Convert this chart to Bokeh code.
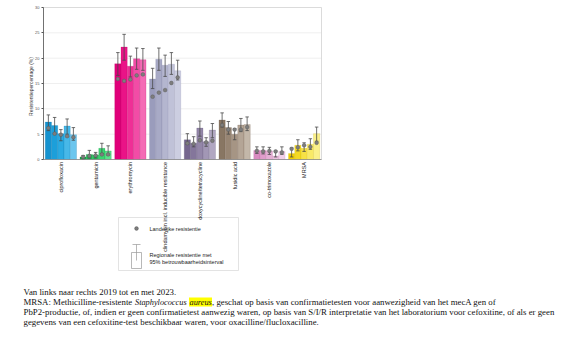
import math
from bokeh.plotting import figure
from bokeh.models import Range1d, ColumnDataSource, FixedTicker
from bokeh.core.properties import value
from bokeh.transform import dodge
from bokeh.embed import file_html
from bokeh.resources import INLINE

categories = ["ciprofloxacin", "gentamicin", "erythromycin",
              "clindamycin incl. inducible resistance", "doxycycline/tetracycline",
              "fusidic acid", "co-trimoxazole", "MRSA"]
years = ["2019", "2020", "2021", "2022", "2023"]
y_ticks = [0, 5, 10, 15, 20, 25, 30]

# regional resistance (bar height), per category, 2019..2023
reg_cip = [7.4, 6.7, 5.1, 6.6, 4.9]
reg_gen = [0.5, 1.0, 0.9, 2.2, 1.7]
reg_ery = [18.9, 22.2, 18.4, 19.9, 19.7]
reg_cli = [15.9, 19.8, 18.6, 18.8, 17.5]
reg_dox = [3.9, 3.2, 6.2, 3.5, 5.8]
reg_fus = [7.8, 6.3, 5.0, 6.8, 6.9]
reg_cot = [1.8, 1.8, 1.7, 0.7, 1.6]
reg_mrsa = [1.2, 2.8, 2.2, 3.0, 5.1]

# 95% CI lower / upper
lo_cip = [5.7, 5.1, 3.7, 5.0, 3.8]
hi_cip = [8.8, 8.3, 5.9, 8.0, 6.3]
lo_gen = [0.0, 0.3, 0.3, 1.2, 0.9]
hi_gen = [0.8, 1.8, 1.4, 3.2, 2.7]
lo_ery = [16.6, 19.6, 16.3, 17.8, 17.6]
hi_ery = [21.1, 24.7, 20.4, 22.0, 21.9]
lo_cli = [14.0, 17.6, 16.4, 16.8, 15.7]
hi_cli = [18.0, 22.0, 20.6, 21.1, 19.6]
lo_dox = [3.0, 2.5, 4.6, 2.6, 4.3]
hi_dox = [5.1, 4.5, 7.6, 4.3, 7.1]
lo_fus = [6.4, 5.0, 3.9, 5.5, 5.7]
hi_fus = [9.2, 7.5, 6.1, 8.1, 8.4]
lo_cot = [1.2, 1.1, 1.0, 0.5, 1.0]
hi_cot = [2.5, 2.5, 2.4, 1.7, 2.5]
lo_mrsa = [0.5, 1.7, 1.6, 2.0, 3.6]
hi_mrsa = [2.3, 3.9, 3.3, 4.1, 6.4]

# national resistance (dots)
nat_cip = [6.2, 5.1, 4.9, 4.6, 4.4]
nat_gen = [0.5, 0.7, 0.8, 1.0, 1.0]
nat_ery = [15.9, 15.5, 15.8, 16.6, 16.8]
nat_cli = [12.4, 13.2, 13.7, 15.1, 16.2]
nat_dox = [3.2, 3.1, 3.8, 3.4, 3.7]
nat_fus = [6.8, 5.9, 5.9, 5.9, 6.4]
nat_cot = [1.7, 1.6, 1.7, 1.6, 1.4]
nat_mrsa = [2.1, 2.4, 2.8, 2.5, 3.3]

regional = [reg_cip, reg_gen, reg_ery, reg_cli, reg_dox, reg_fus, reg_cot, reg_mrsa]
lower = [lo_cip, lo_gen, lo_ery, lo_cli, lo_dox, lo_fus, lo_cot, lo_mrsa]
upper = [hi_cip, hi_gen, hi_ery, hi_cli, hi_dox, hi_fus, hi_cot, hi_mrsa]
national = [nat_cip, nat_gen, nat_ery, nat_cli, nat_dox, nat_fus, nat_cot, nat_mrsa]

legend_dot_text = "Landelijke resistentie"
legend_bar_text = ["Regionale resistentie met", "95% betrouwbaarheidsinterval"]
note_line1 = "Van links naar rechts 2019 tot en met 2023."
note_line2 = ["MRSA: Methicilline-resistente ", "Staphylococcus ", "aureus",
              ", geschat op basis van confirmatietesten voor aanwezigheid van het mecA gen of"]
note_line3 = ("PbP2-productie, of, indien er geen confirmatietest aanwezig waren, op basis van "
              "S/I/R interpretatie van het laboratorium voor cefoxitine, of als er geen")
note_line4 = "gegevens van een cefoxitine-test beschikbaar waren, voor oxacilline/flucloxacilline."

palette = [
    ["#1592cf", "#1c9fda", "#2aaae2", "#47b8e8", "#6cc6ee"],
    ["#17a847", "#1cbb53", "#22c95d", "#39d671", "#5ce08b"],
    ["#e0007a", "#ea1387", "#ef2f96", "#f24ca6", "#f46bb5"],
    ["#9a9cbc", "#a8aac6", "#b4b6cf", "#c0c2d8", "#cccee1"],
    ["#75668d", "#84769b", "#9386a8", "#a297b5", "#b1a7c2"],
    ["#887663", "#978573", "#a69584", "#b4a596", "#c3b7a9"],
    ["#d98bc1", "#df9dcb", "#e5aed4", "#ebbfde", "#f1d0e8"],
    ["#f0cf00", "#f4d923", "#f6e146", "#f8e967", "#faf08a"],
]
edge = ["#0b6f9f", "#12833a", "#a8005c", "#7d7fa0", "#5c4f70", "#6c5c4b", "#b76ba0", "#c9ad00"]

# ---- layout geometry (page pixels) ----
W, H = 561, 340
FRAME_LEFT = 20                 # left panel only holds the (relocated) y axis
LEFT, TOP = 43, 7               # chart area origin on the page
CHART_BOTTOM = 159
CAT_PX = 34.75
ppu = (CHART_BOTTOM - TOP) / 30.0
ncat = len(categories)

p = figure(width=W, height=H, output_backend="svg", toolbar_location=None,
           x_range=Range1d((FRAME_LEFT - LEFT) / CAT_PX, (W - LEFT) / CAT_PX),
           y_range=Range1d(-(H - CHART_BOTTOM) / ppu, 30 + TOP / ppu),
           x_axis_location=None, y_axis_location="left",
           min_border_left=FRAME_LEFT, min_border_right=0, min_border_top=0,
           min_border_bottom=0)
p.extra_x_ranges = {"px": Range1d(FRAME_LEFT, W)}
p.extra_y_ranges = {"px": Range1d(H, 0)}
p.background_fill_color = "white"
p.border_fill_color = "white"
p.outline_line_color = None
p.xgrid.visible = False
p.ygrid.visible = False

xc = [i + 0.5 for i in range(ncat)]

# gridlines and chart box through the data scales
gsrc = ColumnDataSource(dict(y=y_ticks[1:-1]))
p.segment(x0=0, x1=ncat, y0="y", y1="y", source=gsrc, line_color="#ebebeb", line_width=0.8)
p.quad(left=0, right=ncat, bottom=0, top=max(y_ticks), fill_color=None,
       line_color="#d2d2d2", line_width=0.8)

offsets = [-0.36, -0.18, 0.0, 0.18, 0.36]
for j, yr in enumerate(years):
    src = ColumnDataSource(dict(
        xc=xc,
        val=[r[j] for r in regional],
        lo=[r[j] for r in lower],
        hi=[r[j] for r in upper],
        nat=[r[j] for r in national],
        fill=[pl[j] for pl in palette],
        edge=edge,
    ))
    off = offsets[j]
    p.vbar(x=dodge("xc", off), top="val", width=0.18, source=src,
           fill_color="fill", line_color="edge", line_width=0.4, line_alpha=0.5)
    p.segment(x0=dodge("xc", off), x1=dodge("xc", off), y0="lo", y1="hi", source=src,
              line_color="#4a4a4a", line_width=0.8)
    p.segment(x0=dodge("xc", off - 0.05), x1=dodge("xc", off + 0.05), y0="hi", y1="hi",
              source=src, line_color="#4a4a4a", line_width=0.8)
    p.segment(x0=dodge("xc", off - 0.05), x1=dodge("xc", off + 0.05), y0="lo", y1="lo",
              source=src, line_color="#4a4a4a", line_width=0.8)
    p.scatter(x=dodge("xc", off), y="nat", source=src, size=3.8,
              fill_color="#7d7d7d", line_color="#555555", line_width=0.4)

# x axis line
p.segment(x0=0, x1=ncat, y0=0, y1=0, line_color="#8c8c8c", line_width=0.8)

# y axis, drawn at the chart's left edge
p.yaxis.fixed_location = 0
p.yaxis.ticker = FixedTicker(ticks=y_ticks)
p.yaxis.bounds = (0, 30)
p.yaxis.major_label_text_font = "Liberation Sans"
p.yaxis.major_label_text_font_size = "4px"
p.yaxis.major_label_text_color = "#555555"
p.yaxis.major_label_standoff = 2
p.yaxis.axis_line_color = "#555555"
p.yaxis.axis_line_width = 0.8
p.yaxis.major_tick_out = 2
p.yaxis.major_tick_in = 0
p.yaxis.major_tick_line_color = "#555555"
p.yaxis.minor_tick_line_color = None

p.text(x=30.5, y=(TOP + CHART_BOTTOM) / 2 + 3, text=["Resistentiepercentage (%)"],
       x_range_name="px", y_range_name="px", angle=math.pi / 2,
       text_font=value("Liberation Sans"), text_font_size="5px", text_color="#333333",
       text_align="center", text_baseline="middle")

# legend box (drawn before the category labels, which overlap it as in the source)
p.quad(left=118, right=238, top=217, bottom=270, x_range_name="px", y_range_name="px",
       fill_color="white", line_color="#dcdcdc", line_width=0.8)
p.scatter(x=136, y=228, size=3.8, x_range_name="px", y_range_name="px",
          fill_color="#7d7d7d", line_color="#555555", line_width=0.4)
p.quad(left=131, right=141, top=252, bottom=268, x_range_name="px", y_range_name="px",
       fill_color="white", line_color="#9a9a9a", line_width=0.7)
p.segment(x0=136, x1=136, y0=244, y1=260, x_range_name="px", y_range_name="px",
          line_color="#9a9a9a", line_width=0.7)
p.segment(x0=132, x1=140, y0=244, y1=244, x_range_name="px", y_range_name="px",
          line_color="#9a9a9a", line_width=0.7)
lsrc = ColumnDataSource(dict(x=[149, 149, 149], y=[228, 254, 261],
                             t=[legend_dot_text] + legend_bar_text))
p.text(x="x", y="y", text="t", source=lsrc, x_range_name="px", y_range_name="px",
       text_font=value("Liberation Sans"), text_font_size="5.5px", text_color="#222222",
       text_baseline="middle")

# category labels, vertical, ending just below the axis
csrc = ColumnDataSource(dict(xc=xc, cat=categories, y=[CHART_BOTTOM + 2.5] * ncat))
p.text(x="xc", y="y", text="cat", source=csrc, y_range_name="px", angle=math.pi / 2,
       text_font=value("Liberation Sans"), text_font_size="5.5px", text_color="#222222",
       text_align="right", text_baseline="middle")

# notes under the chart
serif = value("Liberation Serif")
FS = "8.8px"
FS_IT = "8.3px"
p.quad(left=188.5, right=211.5, top=297, bottom=306, x_range_name="px", y_range_name="px",
       fill_color="#ffff00", line_color=None)
def note(x, y, text, style="normal", size=FS):
    p.text(x=x, y=y, text=[text], x_range_name="px", y_range_name="px",
           text_font=serif, text_font_size=size, text_font_style=style,
           text_color="#111111", text_baseline="middle")

note(23, 291.5, note_line1)
note(23, 301.5, note_line2[0])
note(134.5, 301.5, note_line2[1], "italic", FS_IT)
note(189, 301.5, note_line2[2], "italic", FS_IT)
note(211.5, 301.5, note_line2[3])
note(23, 311.5, note_line3)
note(23, 321.5, note_line4)

open("out.html", "w").write(file_html(p, INLINE))
